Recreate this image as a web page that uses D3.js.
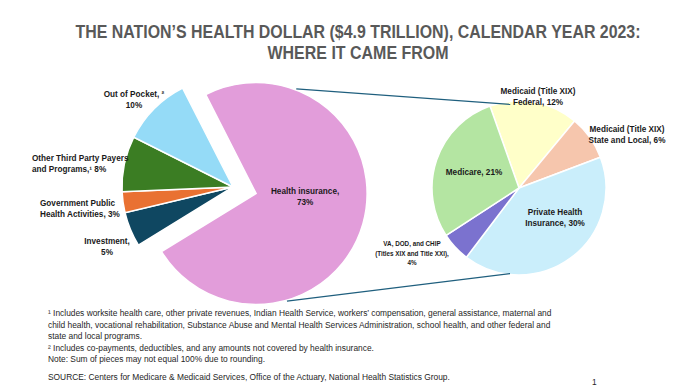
<!DOCTYPE html>
<html>
<head>
<meta charset="utf-8">
<script src="https://cdn.jsdelivr.net/npm/d3@7"></script>
<style>
  html, body { margin: 0; padding: 0; background: #fff; }
  svg { display: block; }
</style>
</head>
<body>
<div id="chart"></div>
<script>
// ---- data ----
const titleLines = ["THE NATION\u2019S HEALTH DOLLAR ($4.9 TRILLION), CALENDAR YEAR 2023:", "WHERE IT CAME FROM"];

const leftCategories = ["Health insurance", "Investment", "Government Public Health Activities", "Other Third Party Payers and Programs", "Out of Pocket"];
const leftValues = [73, 5, 3, 8, 10];
const leftColors = ["#E29DDA", "#0F4761", "#E97132", "#3B7D23", "#95DBF7"];
const leftLabels = [
  ["Health insurance,", "73%"],
  ["Investment,", "5%"],
  ["Government Public", "Health Activities, 3%"],
  ["Other Third Party Payers", "and Programs,\u00b9 8%"],
  ["Out of Pocket, \u00b2", "10%"]
];

const rightCategories = ["Medicaid (Title XIX) Federal", "Medicaid (Title XIX) State and Local", "Private Health Insurance", "VA, DOD, and CHIP", "Medicare"];
const rightValues = [12, 6, 30, 4, 21];
const rightColors = ["#FFFFC9", "#F6C6AD", "#CAEEFB", "#7B72CF", "#B4E5A2"];
const rightLabels = [
  ["Medicaid (Title XIX)", "Federal, 12%"],
  ["Medicaid (Title XIX)", "State and Local, 6%"],
  ["Private Health", "Insurance, 30%"],
  ["VA, DOD, and CHIP", "(Titles XIX and Title XXI),", "4%"],
  ["Medicare, 21%"]
];

const footnotes = [
  "\u00b9 Includes worksite health care, other private revenues, Indian Health Service, workers\u2019 compensation, general assistance, maternal and",
  "child health, vocational rehabilitation, Substance Abuse and Mental Health Services Administration, school health, and other federal and",
  "state and local programs.",
  "\u00b2 Includes co-payments, deductibles, and any amounts not covered by health insurance.",
  "Note: Sum of pieces may not equal 100% due to rounding."
];
const sourceText = "SOURCE: Centers for Medicare & Medicaid Services, Office of the Actuary, National Health Statistics Group.";
const pageNumber = "1";

// ---- layout ----
const W = 698, H = 390;
const deg = Math.PI / 180;
const svg = d3.select("#chart").append("svg").attr("width", W).attr("height", H);
const labelFont = "'Liberation Sans', Arial, sans-serif";

// title
svg.append("g").selectAll("text").data(titleLines).join("text")
  .attr("x", 358).attr("y", (d, i) => 38 + i * 21)
  .attr("text-anchor", "middle")
  .attr("font-family", labelFont)
  .attr("font-weight", "bold")
  .attr("font-size", 17.5)
  .attr("fill", "#595959")
  .attr("textLength", (d, i) => i === 0 ? 565 : 181)
  .attr("lengthAdjust", "spacingAndGlyphs")
  .text(d => d);

// left pie
const L = { cx: 233, cy: 187, r: 111, explode: 24 };
const leftPie = d3.pie().sort(null).value(d => d)
  .startAngle(-27 * deg).endAngle(333 * deg);
const leftArcs = leftPie(leftValues);
const leftArc = d3.arc().innerRadius(0).outerRadius(L.r);

const lg = svg.append("g").attr("transform", `translate(${L.cx},${L.cy})`);
lg.selectAll("path").data(leftArcs).join("path")
  .attr("d", leftArc)
  .attr("transform", (d, i) => {
    if (i !== 0) return null;
    const a = (d.startAngle + d.endAngle) / 2;
    return `translate(${L.explode * Math.sin(a)},${-L.explode * Math.cos(a)})`;
  })
  .attr("fill", (d, i) => leftColors[i])
  .attr("stroke", "#fff").attr("stroke-width", 1.5);

// exploded slice centre (for connectors and label)
const hi = leftArcs[0];
const hiMid = (hi.startAngle + hi.endAngle) / 2;
const P = { x: L.cx + L.explode * Math.sin(hiMid), y: L.cy - L.explode * Math.cos(hiMid) };

// right pie
const R = { cx: 519, cy: 188, r: 87 };
const rightPie = d3.pie().sort(null).value(d => d)
  .startAngle(-19.5 * deg).endAngle(340.5 * deg);
const rightArcs = rightPie(rightValues);
const rightArc = d3.arc().innerRadius(0).outerRadius(R.r);
const rg = svg.append("g").attr("transform", `translate(${R.cx},${R.cy})`);
rg.selectAll("path").data(rightArcs).join("path")
  .attr("d", rightArc)
  .attr("fill", (d, i) => rightColors[i])
  .attr("stroke", "#fff").attr("stroke-width", 1.5);

// connector lines
const pt = (c, r, a) => [c.x + r * Math.sin(a * deg), c.y - r * Math.cos(a * deg)];
const rc = { x: R.cx, y: R.cy };
const conns = [
  [pt(P, L.r + 1, 21), pt(rc, R.r - 3, -6)],
  [pt(P, L.r + 1, 164), pt(rc, R.r - 1, 186)]
];
svg.append("g").selectAll("line").data(conns).join("line")
  .attr("x1", d => d[0][0]).attr("y1", d => d[0][1])
  .attr("x2", d => d[1][0]).attr("y2", d => d[1][1])
  .attr("stroke", "#1F5F7E").attr("stroke-width", 1.3);

// labels
function drawLabel(lines, x, y, anchor, size, lh) {
  const t = svg.append("text")
    .attr("font-family", labelFont).attr("font-weight", "bold")
    .attr("font-size", size).attr("fill", "#1a1a1a")
    .attr("text-anchor", anchor);
  lines.forEach((s, i) => {
    t.append("tspan").attr("x", x).attr("y", y + i * lh).text(s);
  });
}
// left pie labels (positions relative to pie centres)
const leftLabelPos = [
  { dx: 49, dy: 0, anchor: "middle", base: P },
  { dx: -126, dy: 57, anchor: "middle", base: L },
  { dx: -193, dy: 19, anchor: "start", base: L },
  { dx: -201, dy: -26, anchor: "start", base: L },
  { dx: -99, dy: -90, anchor: "middle", base: L }
];
leftLabels.forEach((lines, i) => {
  const p = leftLabelPos[i];
  const bx = p.base.x !== undefined ? p.base.x : p.base.cx;
  const by = p.base.y !== undefined ? p.base.y : p.base.cy;
  drawLabel(lines, bx + p.dx, by + p.dy, p.anchor, 8.2, 11);
});

const rightLabelPos = [
  { dx: 19, dy: -94, anchor: "middle", size: 8.2, lh: 11 },
  { dx: 108, dy: -56, anchor: "middle", size: 8.2, lh: 11 },
  { dx: 36, dy: 27, anchor: "middle", size: 8.2, lh: 11 },
  { dx: -107, dy: 58, anchor: "middle", size: 6.3, lh: 9.5 },
  { dx: -45, dy: -13, anchor: "middle", size: 8.2, lh: 11 }
];
rightLabels.forEach((lines, i) => {
  const p = rightLabelPos[i];
  drawLabel(lines, R.cx + p.dx, R.cy + p.dy, p.anchor, p.size, p.lh);
});

// footnotes
svg.append("g").selectAll("text").data(footnotes).join("text")
  .attr("x", 48).attr("y", (d, i) => 316 + i * 11.6)
  .attr("font-family", labelFont).attr("font-size", 8.4).attr("fill", "#262626")
  .text(d => d);
svg.append("text").attr("x", 48).attr("y", 380)
  .attr("font-family", labelFont).attr("font-size", 8.4).attr("fill", "#262626")
  .text(sourceText);
svg.append("text").attr("x", 592).attr("y", 385)
  .attr("font-family", labelFont).attr("font-size", 8.4).attr("fill", "#262626")
  .text(pageNumber);
</script>
</body>
</html>
